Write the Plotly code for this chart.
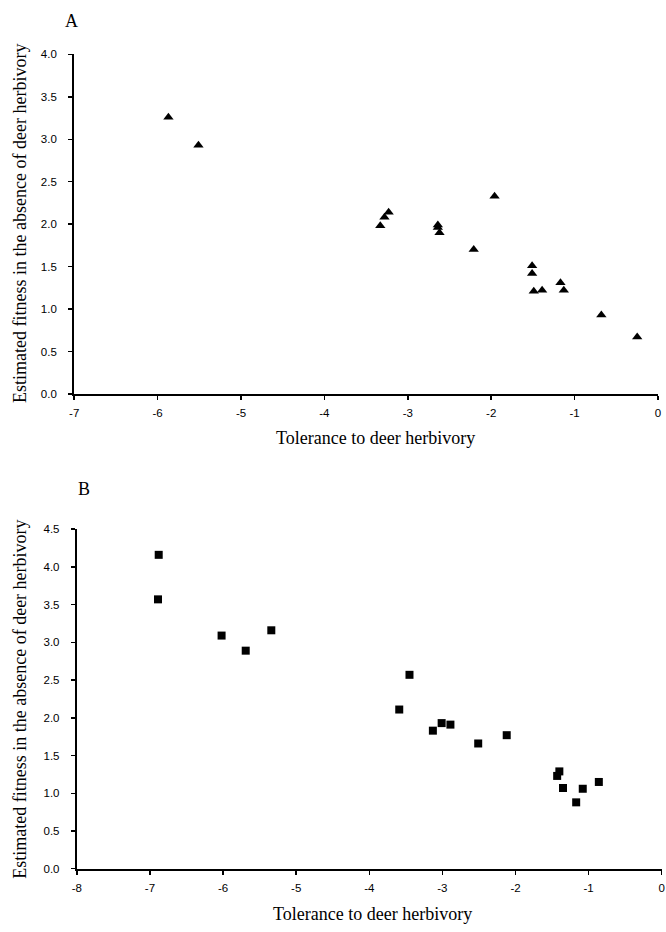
import plotly.graph_objects as go

# Panel A data (triangles)
tol_a = [-5.87, -5.51, -3.33, -3.28, -3.23, -2.64, -2.64, -2.62, -2.21, -1.96,
         -1.51, -1.51, -1.49, -1.39, -1.17, -1.13, -0.68, -0.25]
fit_a = [3.26, 2.93, 1.98, 2.08, 2.14, 1.99, 1.96, 1.90, 1.70, 2.33,
         1.51, 1.42, 1.21, 1.22, 1.31, 1.22, 0.93, 0.67]

# Panel B data (squares)
tol_b = [-6.88, -6.89, -6.02, -5.69, -5.34, -3.45, -3.59, -3.01, -3.13, -2.89,
         -2.51, -2.12, -1.40, -1.43, -1.35, -1.08, -1.17, -0.86]
fit_b = [4.16, 3.57, 3.09, 2.89, 3.16, 2.57, 2.11, 1.93, 1.83, 1.91,
         1.66, 1.77, 1.29, 1.23, 1.07, 1.06, 0.88, 1.15]

xticks_a = [-7, -6, -5, -4, -3, -2, -1, 0]
yticks_a = [0.0, 0.5, 1.0, 1.5, 2.0, 2.5, 3.0, 3.5, 4.0]
xticks_b = [-8, -7, -6, -5, -4, -3, -2, -1, 0]
yticks_b = [0.0, 0.5, 1.0, 1.5, 2.0, 2.5, 3.0, 3.5, 4.0, 4.5]

xlabel = "Tolerance to deer herbivory"
ylabel = "Estimated fitness in the absence of deer herbivory"

W, H = 666, 932


def px(x):
    return x / W


def py(y):
    return 1 - y / H


fig = go.Figure()
fig.add_trace(go.Scatter(x=tol_a, y=fit_a, mode="markers", xaxis="x", yaxis="y",
                         marker=dict(symbol="triangle-up", size=9, color="black"),
                         showlegend=False, cliponaxis=False))
fig.add_trace(go.Scatter(x=tol_b, y=fit_b, mode="markers", xaxis="x2", yaxis="y2",
                         marker=dict(symbol="square", size=8, color="black"),
                         showlegend=False, cliponaxis=False))

tickfont = dict(family="Liberation Sans, Arial, sans-serif", size=11.5, color="black")
titlefont = dict(family="Liberation Serif, Times New Roman, serif", size=18, color="black")


def xax(domain, ticks, anchor):
    return dict(domain=domain, range=[ticks[0], ticks[-1]], tickvals=ticks,
                ticktext=[str(t) for t in ticks], showline=True, linewidth=2,
                linecolor="black", ticks="outside", ticklen=4, tickwidth=1.5,
                tickcolor="black", showgrid=False, zeroline=False,
                tickfont=tickfont, anchor=anchor, ticklabelstandoff=3)


def yax(domain, ticks, anchor):
    return dict(domain=domain, range=[ticks[0], ticks[-1]], tickvals=ticks,
                ticktext=[f"{t:.1f}" for t in ticks], showline=True, linewidth=2,
                linecolor="black", ticks="outside", ticklen=4, tickwidth=1.5,
                tickcolor="black", showgrid=False, zeroline=False,
                tickfont=tickfont, anchor=anchor, ticklabelstandoff=9)


fig.update_layout(
    width=W, height=H,
    margin=dict(l=0, r=0, t=0, b=0),
    paper_bgcolor="white", plot_bgcolor="white",
    hovermode=False,
    xaxis=xax([px(70), px(661)], xticks_a, "y"),
    yaxis=yax([py(393), py(49)], yticks_a, "x"),
    xaxis2=xax([px(72.7), px(664.7)], xticks_b, "y2"),
    yaxis2=yax([py(874), py(530)], yticks_b, "x2"),
)

annots = [
    dict(text="A", x=px(67), y=py(15)),
    dict(text="B", x=px(80), y=py(489)),
    dict(text=xlabel, x=px(375), y=py(438)),
    dict(text=xlabel, x=px(372), y=py(920)),
    dict(text=ylabel, x=px(15), y=py(220), textangle=-90),
    dict(text=ylabel, x=px(15), y=py(702), textangle=-90),
]
for a in annots:
    fig.add_annotation(xref="paper", yref="paper", showarrow=False,
                       xanchor="center", yanchor="middle", font=titlefont, **a)

fig.write_html(
    "out.html",
    config={"displayModeBar": False, "staticPlot": True},
    post_script="document.body.style.margin='0';document.body.style.overflow='hidden';",
)
